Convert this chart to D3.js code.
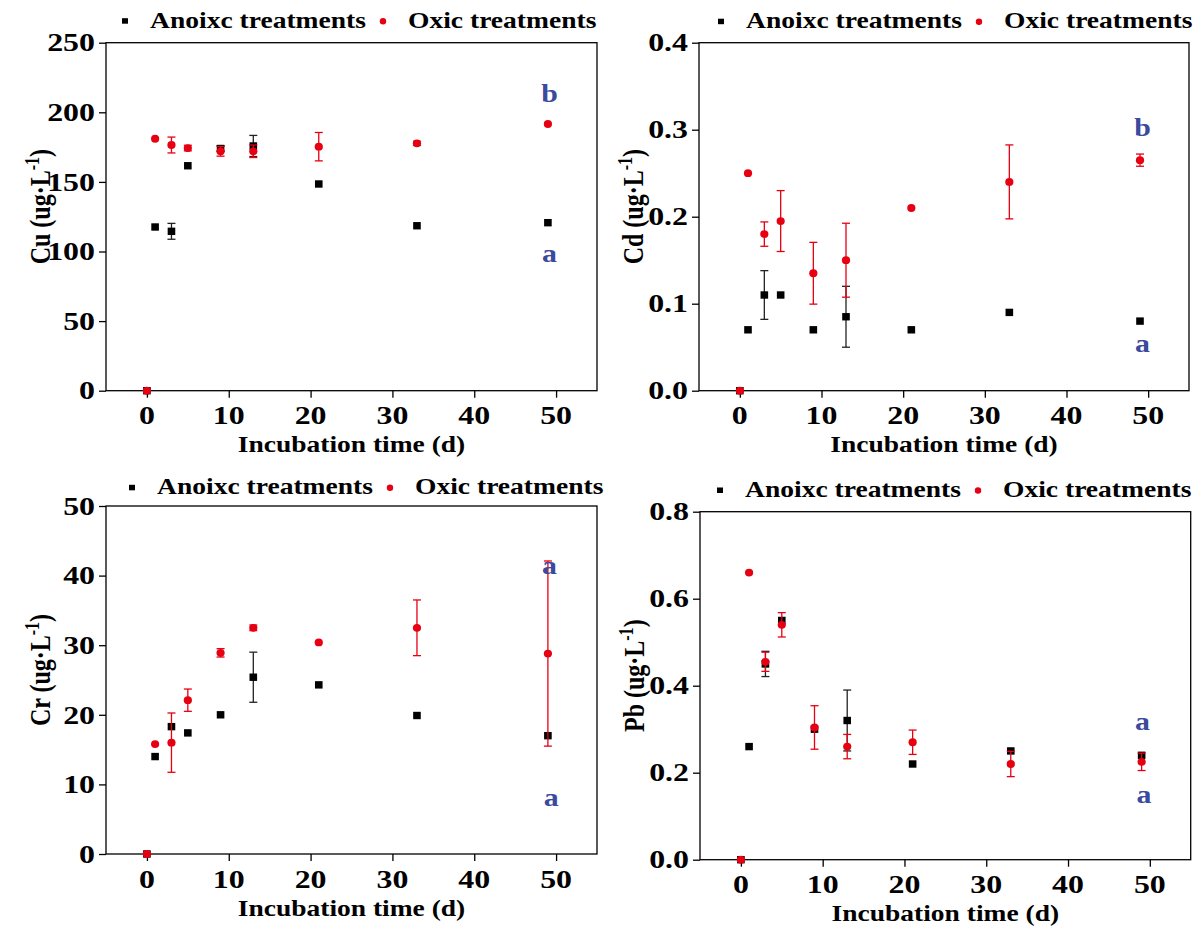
<!DOCTYPE html>
<html>
<head>
<meta charset="utf-8">
<script src="https://cdn.jsdelivr.net/npm/d3@7"></script>
<style>
  html, body { margin: 0; padding: 0; background: #fff; }
</style>
</head>
<body>
<svg id="chart" width="1202" height="933"></svg>
<script>
// ---------------- data ----------------
const days = [0, 1, 3, 5, 9, 13, 21, 33, 49];

const cuAnoxic    = [0, 117.6, 114.5, 161.6, 174.0, 175.8, 148.5, 118.5, 120.7];
const cuAnoxicErr = [0, 0, 5.7, 0, 2, 7.6, 0, 0, 0];
const cuOxic      = [0, 181.0, 176.5, 174.3, 172.0, 172.0, 175.3, 177.7, 191.6];
const cuOxicErr   = [0, 0, 5.7, 2, 3.5, 4.5, 10.2, 1.5, 0];

const cdAnoxic    = [0, 0.07, 0.11, 0.11, 0.07, 0.085, 0.07, 0.09, 0.08];
const cdAnoxicErr = [0, 0, 0.028, 0, 0, 0.035, 0, 0, 0];
const cdOxic      = [0, 0.25, 0.18, 0.195, 0.135, 0.15, 0.21, 0.24, 0.265];
const cdOxicErr   = [0, 0, 0.014, 0.035, 0.0355, 0.0425, 0, 0.0425, 0.007];

const crAnoxic    = [0, 14.0, 18.3, 17.4, 20.0, 25.4, 24.3, 19.9, 17.0];
const crAnoxicErr = [0, 0, 0, 0, 0, 3.6, 0, 0, 0];
const crOxic      = [0, 15.8, 16.0, 22.1, 28.9, 32.5, 30.4, 32.5, 28.8];
const crOxicErr   = [0, 0, 4.26, 1.6, 0.6, 0.4, 0, 4.0, 13.3];

const pbAnoxic    = [0, 0.26, 0.45, 0.55, 0.30, 0.32, 0.22, 0.25, 0.24];
const pbAnoxicErr = [0, 0, 0.029, 0, 0, 0.07, 0, 0, 0];
const pbOxic      = [0, 0.66, 0.455, 0.54, 0.304, 0.26, 0.27, 0.22, 0.225];
const pbOxicErr   = [0, 0, 0.022, 0.028, 0.05, 0.028, 0.028, 0.029, 0.02];

const xTicks = [0, 10, 20, 30, 40, 50];
const cuTicks = [0, 50, 100, 150, 200, 250];
const cdTicks = [0, 0.1, 0.2, 0.3, 0.4];
const crTicks = [0, 10, 20, 30, 40, 50];
const pbTicks = [0, 0.2, 0.4, 0.6, 0.8];

const legendLabels = ["Anoixc treatments", "Oxic treatments"];
const xTitle = "Incubation time (d)";

// significance letters: [day, value, letter]
const cuLetters = [[49.2, 207.6, "b"], [49.2, 92.5, "a"]];
const cdLetters = [[49.3, 0.2928, "b"], [49.3, 0.0441, "a"]];
const crLetters = [[49.2, 40.3, "a"], [49.4, 6.9, "a"]];
const pbLetters = [[49.1, 0.298, "a"], [49.3, 0.1297, "a"]];

// ---------------- layout ----------------
const FONT = "Liberation Serif";
const SX = 1.25;          // horizontal stretch of the original figure's text
const RED = "#e60012";
const BLUE = "#3b4a9c";

const panels = [
  { el: "Cu", anox: cuAnoxic, anoxErr: cuAnoxicErr, ox: cuOxic, oxErr: cuOxicErr, ticks: cuTicks, fmt: d3.format("d"),
    letters: cuLetters, box: [106, 42.7, 597, 390.7], legend: [19, -15] },
  { el: "Cd", anox: cdAnoxic, anoxErr: cdAnoxicErr, ox: cdOxic, oxErr: cdOxicErr, ticks: cdTicks, fmt: d3.format(".1f"),
    letters: cdLetters, box: [699, 42.7, 1189, 390.7], legend: [22, -14.5] },
  { el: "Cr", anox: crAnoxic, anoxErr: crAnoxicErr, ox: crOxic, oxErr: crOxicErr, ticks: crTicks, fmt: d3.format("d"),
    letters: crLetters, box: [106, 506, 597, 854], legend: [26, -11.7] },
  { el: "Pb", anox: pbAnoxic, anoxErr: pbAnoxicErr, ox: pbOxic, oxErr: pbOxicErr, ticks: pbTicks, fmt: d3.format(".1f"),
    letters: pbLetters, box: [700, 511.7, 1190.7, 859.7], legend: [20, -14.7] },
];

const svg = d3.select("#chart");

function stext(g, x, y, str, size, anchor, sx) {
  return g.append("text")
    .attr("transform", `translate(${x},${y}) scale(${sx == null ? SX : sx},1)`)
    .attr("text-anchor", anchor || "start")
    .attr("font-family", FONT)
    .attr("font-weight", "bold")
    .attr("font-size", size)
    .text(str);
}

panels.forEach(p => {
  const [L, T, R, B] = p.box;
  const yMax = p.ticks[p.ticks.length - 1];
  const x = d3.scaleLinear().domain([-5, 55]).range([L, R]);
  const y = d3.scaleLinear().domain([0, yMax]).range([B, T]);
  const g = svg.append("g");

  // frame
  g.append("rect").attr("x", L).attr("y", T).attr("width", R - L).attr("height", B - T)
    .attr("fill", "none").attr("stroke", "#000").attr("stroke-width", 1.3);

  // axes (ticks only; labels drawn separately for stretch)
  const xAxis = d3.axisBottom(x).tickValues(xTicks).tickSize(7).tickFormat("");
  const yAxis = d3.axisLeft(y).tickValues(p.ticks).tickSize(7).tickFormat("");
  g.append("g").attr("transform", `translate(0,${B})`).call(xAxis)
    .call(s => s.select(".domain").remove())
    .selectAll("line").attr("stroke-width", 1.3);
  g.append("g").attr("transform", `translate(${L},0)`).call(yAxis)
    .call(s => s.select(".domain").remove())
    .selectAll("line").attr("stroke-width", 1.3);

  xTicks.forEach(t => stext(g, x(t), B + 33.5, String(t), 25.5, "middle"));
  p.ticks.forEach(t => stext(g, L - 11, y(t) + 8.7, p.fmt(t), 25.5, "end"));

  // axis titles
  stext(g, (L + R) / 2, B + 61.5, xTitle, 23.5, "middle", 1.17);
  const yt = g.append("text")
    .attr("transform", `translate(${L - 56},${(T + B) / 2 - 10}) rotate(-90) scale(1,${SX})`)
    .attr("text-anchor", "middle")
    .attr("font-family", FONT)
    .attr("font-weight", "bold")
    .attr("font-size", 24);
  yt.append("tspan").text(`${p.el} (ug·L`);
  yt.append("tspan").attr("dy", -9).attr("font-size", 16).text("-1");
  yt.append("tspan").attr("dy", 9).text(")");

  // legend
  const lx = L + p.legend[0], ly = T + p.legend[1];
  g.append("rect").attr("x", lx - 3).attr("y", ly - 9.5).attr("width", 6).attr("height", 5.5).attr("fill", "#000");
  stext(g, lx + 25, ly, legendLabels[0], 22.5, "start", 1.225);
  g.append("circle").attr("cx", lx + 258).attr("cy", ly - 6.5).attr("r", 3.2).attr("fill", RED);
  stext(g, lx + 283, ly, legendLabels[1], 22.5, "start", 1.225);

  // series drawing
  function drawSeries(vals, errs, color, barColor, shape) {
    const data = days.map((d, i) => ({ d, v: vals[i], e: errs[i] }));
    const eb = g.append("g").attr("stroke", barColor).attr("stroke-width", 1.3);
    data.filter(o => o.e > 0).forEach(o => {
      const cx = x(o.d);
      eb.append("line").attr("x1", cx).attr("x2", cx).attr("y1", y(o.v - o.e)).attr("y2", y(o.v + o.e));
      eb.append("line").attr("x1", cx - 4).attr("x2", cx + 4).attr("y1", y(o.v - o.e)).attr("y2", y(o.v - o.e));
      eb.append("line").attr("x1", cx - 4).attr("x2", cx + 4).attr("y1", y(o.v + o.e)).attr("y2", y(o.v + o.e));
    });
    if (shape === "square") {
      g.append("g").selectAll("rect").data(data).join("rect")
        .attr("x", o => x(o.d) - 3.8).attr("y", o => y(o.v) - 3.7)
        .attr("width", 7.6).attr("height", 7.4).attr("fill", color);
    } else {
      g.append("g").selectAll("ellipse").data(data).join("ellipse")
        .attr("cx", o => x(o.d)).attr("cy", o => y(o.v))
        .attr("rx", 4.1).attr("ry", 3.9).attr("fill", color);
    }
  }
  drawSeries(p.anox, p.anoxErr, "#000", "#222", "square");
  drawSeries(p.ox, p.oxErr, RED, RED, "circle");

  // letters
  p.letters.forEach(([d, v, s]) => {
    stext(g, x(d), y(v), s, 26, "middle", 1.15).attr("fill", BLUE);
  });
});
</script>
</body>
</html>
